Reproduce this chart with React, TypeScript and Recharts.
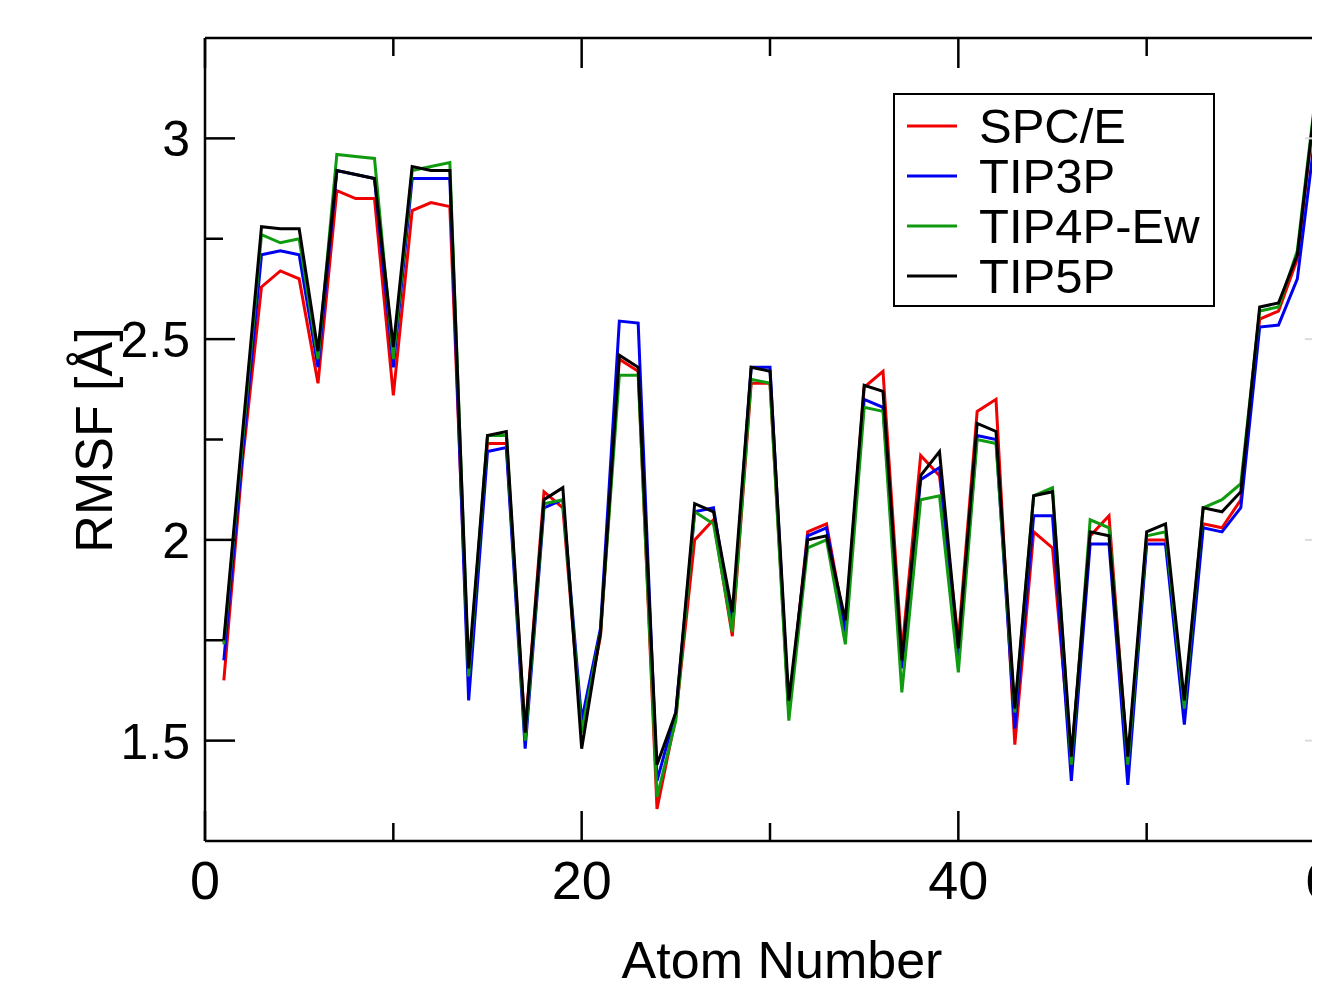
import React from 'react';
import { LineChart, Line, XAxis, YAxis, Legend } from 'recharts';

const FONT = '"Liberation Sans", Arial, Helvetica, sans-serif';

const atoms = [
  1, 2, 3, 4, 5, 6, 7, 8, 9, 10, 11, 12, 13, 14, 15, 16, 17, 18, 19, 20,
  21, 22, 23, 24, 25, 26, 27, 28, 29, 30, 31, 32, 33, 34, 35, 36, 37, 38, 39, 40,
  41, 42, 43, 44, 45, 46, 47, 48, 49, 50, 51, 52, 53, 54, 55, 56, 57, 58, 59,
];

const spce = [
  1.65, 2.2, 2.63, 2.67, 2.65, 2.39, 2.87, 2.85, 2.85, 2.36, 2.82, 2.84, 2.83, 1.65, 2.24, 2.24, 1.52, 2.12, 2.08, 1.52,
  1.76, 2.45, 2.42, 1.33, 1.56, 2.0, 2.05, 1.76, 2.39, 2.39, 1.57, 2.02, 2.04, 1.78, 2.38, 2.42, 1.72, 2.21, 2.16, 1.75,
  2.32, 2.35, 1.49, 2.02, 1.98, 1.45, 2.01, 2.06, 1.44, 2.0, 2.0, 1.58, 2.04, 2.03, 2.1, 2.55, 2.57, 2.7, 3.11,
];

const tip3p = [
  1.7, 2.22, 2.71, 2.72, 2.71, 2.43, 2.92, 2.91, 2.9, 2.43, 2.9, 2.9, 2.9, 1.6, 2.22, 2.23, 1.48, 2.08, 2.1, 1.55,
  1.78, 2.545, 2.54, 1.4, 1.57, 2.07, 2.08, 1.79, 2.43, 2.43, 1.57, 2.01, 2.03, 1.77, 2.35, 2.33, 1.68, 2.15, 2.18, 1.7,
  2.26, 2.25, 1.53, 2.06, 2.06, 1.4, 1.99, 1.99, 1.39, 1.99, 1.99, 1.54, 2.03, 2.02, 2.08, 2.53, 2.535, 2.65, 3.03,
];

const tip4pew = [
  1.74, 2.25, 2.76, 2.74, 2.75, 2.45, 2.96, 2.955, 2.95, 2.45, 2.92, 2.93, 2.94, 1.66, 2.26, 2.26, 1.5, 2.09, 2.1, 1.52,
  1.77, 2.41, 2.41, 1.36, 1.55, 2.07, 2.04, 1.77, 2.4, 2.39, 1.55, 1.98, 2.0, 1.74, 2.33, 2.32, 1.62, 2.1, 2.11, 1.67,
  2.25, 2.24, 1.57, 2.11, 2.13, 1.44, 2.05, 2.03, 1.44, 2.01, 2.02, 1.58, 2.08, 2.1, 2.14, 2.57, 2.58, 2.72, 3.12,
];

const tip5p = [
  1.75, 2.27, 2.78, 2.775, 2.775, 2.47, 2.92, 2.91, 2.9, 2.48, 2.93, 2.92, 2.92, 1.68, 2.26, 2.27, 1.52, 2.1, 2.13, 1.48,
  1.77, 2.46, 2.43, 1.44, 1.57, 2.09, 2.07, 1.82, 2.43, 2.42, 1.6, 2.0, 2.01, 1.8, 2.385, 2.37, 1.7, 2.16, 2.22, 1.73,
  2.29, 2.27, 1.58, 2.11, 2.12, 1.46, 2.02, 2.01, 1.46, 2.02, 2.04, 1.6, 2.08, 2.07, 2.12, 2.58, 2.59, 2.71, 3.11,
];

const xTicks = [0, 10, 20, 30, 40, 50, 60];
const yTicks = [1.5, 1.75, 2, 2.25, 2.5, 2.75, 3];

const seriesNames = ['SPC/E', 'TIP3P', 'TIP4P-Ew', 'TIP5P'];
const seriesKeys = ['spce', 'tip3p', 'tip4pew', 'tip5p'];
const seriesColors = ['#f00000', '#0000f0', '#109a10', '#000000'];

const data = atoms.map((a, i) => ({
  atom: a,
  spce: spce[i],
  tip3p: tip3p[i],
  tip4pew: tip4pew[i],
  tip5p: tip5p[i],
}));

const isMajorX = (v: number) => v % 20 === 0;
const isMajorY = (v: number) => Math.abs(v * 2 - Math.round(v * 2)) < 1e-6;

const BottomTick = (props: any) => {
  const { x, y, payload } = props;
  const v = payload.value;
  const major = isMajorX(v);
  return (
    <g>
      <line x1={x} x2={x} y1={y} y2={y - (major ? 30 : 18)} stroke="#000" strokeWidth={2.5} />
      {major && (
        <text x={x} y={y + 58} textAnchor="middle" fontSize={54} fontFamily={FONT} fill="#000">
          {v}
        </text>
      )}
    </g>
  );
};

const TopTick = (props: any) => {
  const { x, y, payload } = props;
  const major = isMajorX(payload.value);
  return <line x1={x} x2={x} y1={y} y2={y + (major ? 30 : 18)} stroke="#000" strokeWidth={2.5} />;
};

const LeftTick = (props: any) => {
  const { x, y, payload } = props;
  const v = payload.value;
  const major = isMajorY(v);
  return (
    <g>
      <line x1={x} x2={x + (major ? 30 : 18)} y1={y} y2={y} stroke="#000" strokeWidth={2.5} />
      {major && (
        <text x={x - 15} y={y + 18} textAnchor="end" fontSize={50} fontFamily={FONT} fill="#000">
          {String(v)}
        </text>
      )}
    </g>
  );
};

const RightTick = (props: any) => {
  const { x, y, payload } = props;
  const major = isMajorY(payload.value);
  return <line x1={x} x2={x - (major ? 30 : 18)} y1={y} y2={y} stroke="#dcdcdc" strokeWidth={2} />;
};

const LegendBox = () => (
  <div
    style={{
      border: '2.5px solid #000',
      background: '#fff',
      padding: '6px 2px 6px 12px',
      fontFamily: FONT,
      boxSizing: 'border-box',
      width: 322,
      height: 214,
      whiteSpace: 'nowrap',
    }}
  >
    {seriesNames.map((name, i) => (
      <div key={name} style={{ display: 'flex', alignItems: 'center', height: 50, whiteSpace: 'nowrap' }}>
        <svg width={50} height={10} style={{ marginRight: 22, flexShrink: 0 }}>
          <line x1={0} x2={50} y1={5} y2={5} stroke={seriesColors[i]} strokeWidth={3} />
        </svg>
        <span style={{ fontSize: 49, lineHeight: '50px', color: '#000', whiteSpace: 'nowrap' }}>{name}</span>
      </div>
    ))}
  </div>
);

export default function App() {
  return (
    <div style={{ position: 'relative', width: 1312, height: 984, overflow: 'hidden', background: '#fff' }}>
      <LineChart
        width={1400}
        height={984}
        data={data}
        margin={{ top: 29, right: 72, bottom: 51, left: 67 }}
      >
        <XAxis
          xAxisId="b"
          dataKey="atom"
          type="number"
          domain={[0, 60]}
          ticks={xTicks}
          interval={0}
          allowDataOverflow
          height={100}
          tickSize={0}
          tickMargin={0}
          tickLine={false}
          axisLine={{ stroke: '#000', strokeWidth: 2.5 }}
          tick={<BottomTick />}
          label={(p: any) => (
            <text x={774} y={970} textAnchor="middle" fontSize={52} fontFamily={FONT} fill="#000">
              Atom Number
            </text>
          )}
        />
        <XAxis
          xAxisId="t"
          orientation="top"
          dataKey="atom"
          type="number"
          domain={[0, 60]}
          ticks={xTicks}
          interval={0}
          allowDataOverflow
          height={1}
          tickSize={0}
          tickMargin={0}
          tickLine={false}
          axisLine={{ stroke: '#000', strokeWidth: 2.5 }}
          tick={<TopTick />}
        />
        <YAxis
          yAxisId="l"
          type="number"
          domain={[1.25, 3.25]}
          ticks={yTicks}
          interval={0}
          allowDataOverflow
          width={130}
          tickSize={0}
          tickMargin={0}
          tickLine={false}
          axisLine={{ stroke: '#000', strokeWidth: 2.5 }}
          tick={<LeftTick />}
          label={(p: any) => (
            <text
              x={0}
              y={0}
              transform="translate(104 432) rotate(-90)"
              textAnchor="middle"
              fontSize={52}
              fontFamily={FONT}
              fill="#000"
            >
              RMSF [Å]
            </text>
          )}
        />
        <YAxis
          yAxisId="r"
          orientation="right"
          type="number"
          domain={[1.25, 3.25]}
          ticks={yTicks}
          interval={0}
          allowDataOverflow
          width={1}
          tickSize={0}
          tickMargin={0}
          tickLine={false}
          axisLine={{ stroke: '#000', strokeWidth: 2.5 }}
          tick={<RightTick />}
        />
        <Legend
          layout="horizontal"
          verticalAlign="middle"
          align="center"
          content={<LegendBox />}
          wrapperStyle={{ left: 885, top: 85, width: 322, height: 214 }}
        />
        <Line
          xAxisId="t"
          yAxisId="r"
          type="linear"
          dataKey="tip5p"
          stroke="none"
          strokeWidth={0}
          dot={false}
          activeDot={false}
          legendType="none"
          isAnimationActive={false}
        />
        {seriesKeys.map((k, i) => (
          <Line
            key={k}
            xAxisId="b"
            yAxisId="l"
            type="linear"
            dataKey={k}
            name={seriesNames[i]}
            stroke={seriesColors[i]}
            strokeWidth={3}
            dot={false}
            activeDot={false}
            isAnimationActive={false}
          />
        ))}
      </LineChart>
    </div>
  );
}
